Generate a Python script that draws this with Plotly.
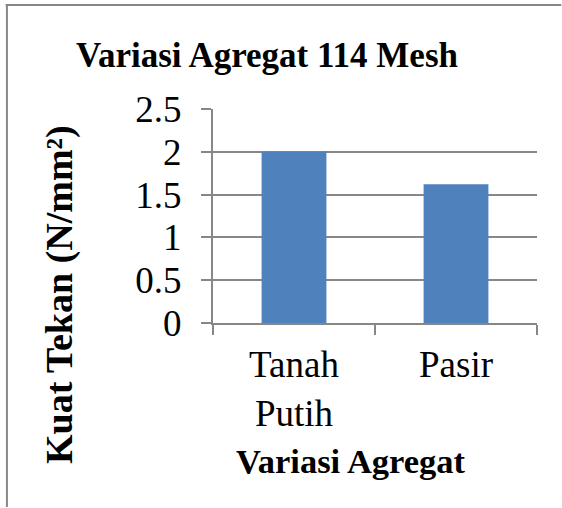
import plotly.graph_objects as go

categories = ["Tanah<br>Putih", "Pasir"]
kuat_tekan = [2.0, 1.62]
y_ticks = [0, 0.5, 1, 1.5, 2, 2.5]
y_tick_labels = ["0", "0.5", "1", "1.5", "2", "2.5"]

grey = "#878787"
serif = "Liberation Serif, Times New Roman, serif"

fig = go.Figure([go.Bar(
    x=categories,
    y=kuat_tekan,
    marker_color="#4F81BD",
    marker_line_width=0,
)])

fig.update_layout(
    width=562, height=508,
    margin={'l': 213, 'r': 25, 't': 109, 'b': 185},
    paper_bgcolor="white", plot_bgcolor="white",
    font=dict(family=serif, size=37, color="black"),
    bargap=0.6,
    showlegend=False,
    title=dict(text="<b>Variasi Agregat 114 Mesh</b>", x=0.475, xanchor="center",
               y=0.892, yanchor="middle", font=dict(size=35)),
    annotations=[
        dict(text="<b>Kuat Tekan (N/mm²)</b>", textangle=-90, xref="paper", yref="paper",
             x=-0.472, y=0.131, xanchor="center", yanchor="middle", showarrow=False,
             font=dict(size=38)),
        dict(text="<b>Variasi Agregat</b>", xref="paper", yref="paper",
             x=0.426, y=-0.646, xanchor="center", yanchor="middle", showarrow=False,
             font=dict(size=34.5)),
    ],
    # chart frame (only left and top edges visible)
    shapes=[
        dict(type="line", xref="paper", yref="paper", x0=-0.636, x1=-0.636, y0=1.49, y1=-0.86,
             line=dict(color=grey, width=2)),
        dict(type="line", xref="paper", yref="paper", x0=-0.64, x1=1.075, y0=1.486, y1=1.486,
             line=dict(color=grey, width=2)),
    ],
)

fig.update_yaxes(
    range=[0, 2.5], tickvals=y_ticks, ticktext=y_tick_labels,
    showgrid=True, gridcolor=grey, gridwidth=2,
    showline=True, linecolor=grey, linewidth=2,
    ticks="outside", ticklen=10, tickcolor=grey, tickwidth=2,
    zeroline=False, tickfont=dict(size=37), ticklabelstandoff=12,
)
fig.update_xaxes(
    showgrid=False, showline=True, linecolor=grey, linewidth=2,
    ticks="outside", tickson="boundaries", ticklen=10, tickcolor=grey, tickwidth=2,
    tickfont=dict(size=37), tickangle=0, ticklabelstandoff=8,
)

fig.write_html(
    "out.html", config={"displayModeBar": False},
    post_script="document.body.style.margin='0';"
                "document.body.style.overflow='hidden';"
                "document.documentElement.style.overflow='hidden';",
)
